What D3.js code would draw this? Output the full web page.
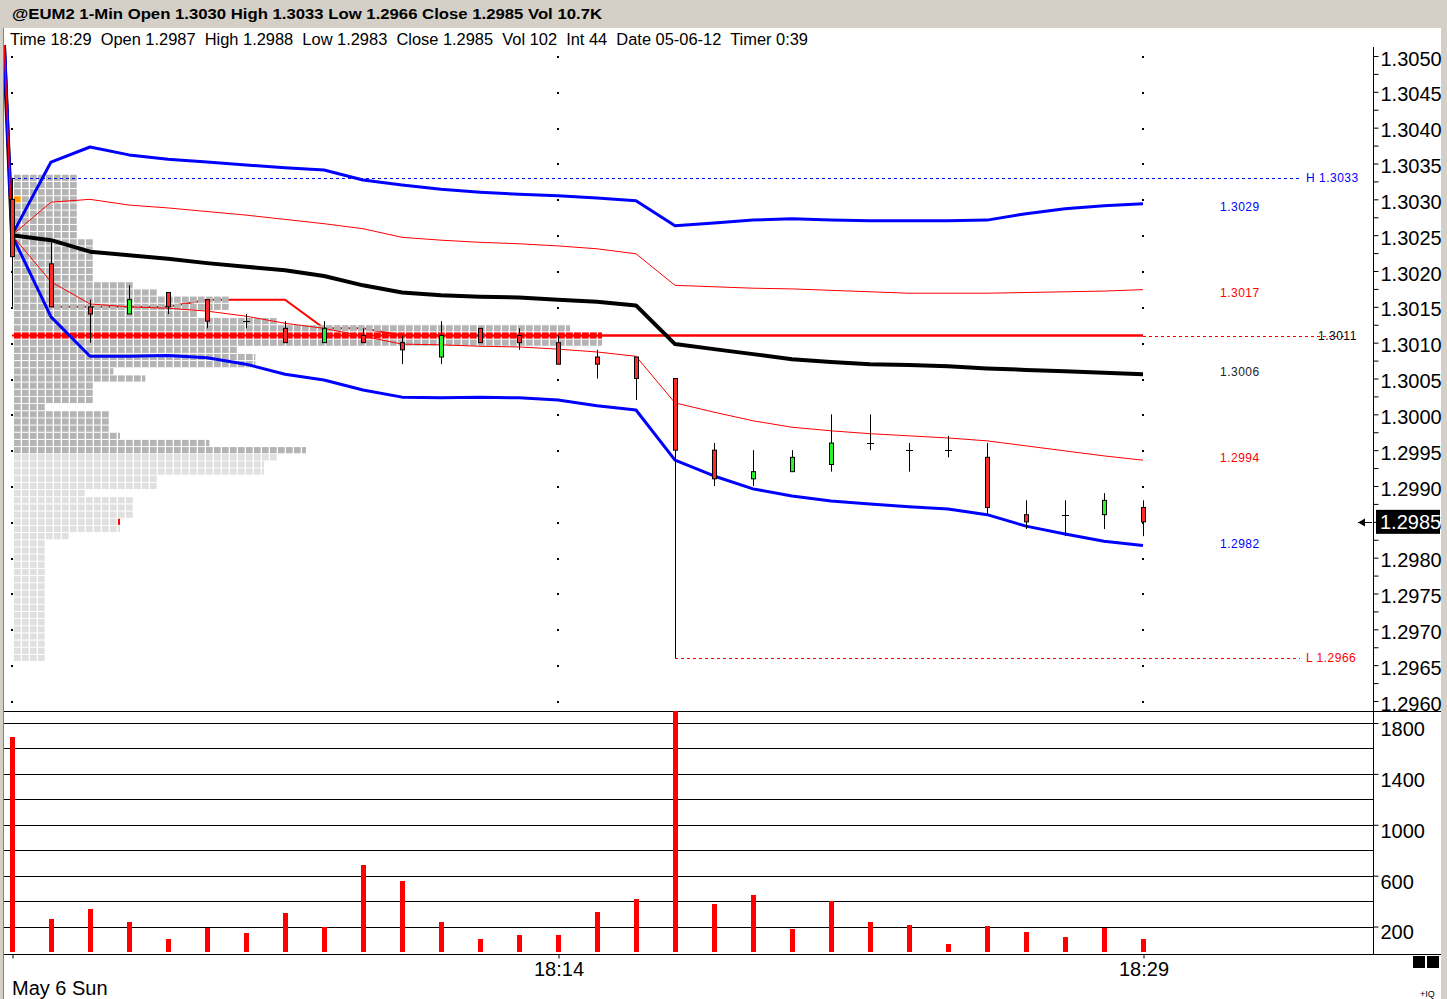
<!DOCTYPE html>
<html>
<head>
<meta charset="utf-8">
<script src="https://cdn.jsdelivr.net/npm/d3@7"></script>
<style>
  html, body { margin: 0; padding: 0; background: #fff; overflow: hidden; }
  svg { display: block; font-family: "Liberation Sans", Arial, sans-serif; }
</style>
</head>
<body>
<svg id="chart" width="1447" height="999"></svg>
<script>
/* ---- chart data ---- */
const times = ["18:00","18:01","18:02","18:03","18:04","18:05","18:06","18:07","18:08","18:09",
  "18:10","18:11","18:12","18:13","18:14","18:15","18:16","18:17","18:18","18:19",
  "18:20","18:21","18:22","18:23","18:24","18:25","18:26","18:27","18:28","18:29"];

const opens  = [1.3030,1.3021,1.3015,1.3014,1.3017,1.3016,1.3013,1.3012,1.3010,1.3011,
  1.3010,1.3008,1.3012,1.3011,1.3010,1.3008,1.3008,1.3005,1.2995,1.2991,
  1.2992,1.2993,1.2996,1.2995,1.2995,1.2994,1.2986,1.2986,1.2986,1.2987];
const highs  = [1.3033,1.3024,1.3016,1.3018,1.3017,1.3016,1.3014,1.3013,1.3013,1.3012,
  1.3011,1.3013,1.3012,1.3012,1.3011,1.3009,1.3008,1.3005,1.2996,1.2995,
  1.2995,1.3000,1.3000,1.2996,1.2997,1.2996,1.2988,1.2988,1.2989,1.2988];
const lows   = [1.3015,1.3015,1.3010,1.3014,1.3014,1.3012,1.3012,1.3010,1.3010,1.3010,
  1.3007,1.3007,1.3010,1.3009,1.3007,1.3005,1.3002,1.2966,1.2990,1.2990,
  1.2992,1.2992,1.2995,1.2992,1.2994,1.2986,1.2984,1.2983,1.2984,1.2983];
const closes = [1.3022,1.3015,1.3014,1.3016,1.3015,1.3013,1.3013,1.3010,1.3012,1.3010,
  1.3009,1.3011,1.3010,1.3010,1.3007,1.3007,1.3005,1.2995,1.2991,1.2992,
  1.2994,1.2996,1.2996,1.2995,1.2995,1.2987,1.2985,1.2986,1.2988,1.2985];
const volumes = [1692,259,338,236,102,191,149,306,194,684,
  558,236,102,134,134,314,416,1970,377,448,
  181,401,236,212,63,204,157,118,189,102];

// VWAP and deviation bands
const upper2 = [1.30250,1.30352,1.30373,1.30362,1.30356,1.30352,1.30348,1.30344,1.30341,1.30327,
  1.30320,1.30314,1.30310,1.30307,1.30305,1.30302,1.30298,1.30263,1.30267,1.30271,
  1.30273,1.30271,1.30270,1.30270,1.30270,1.30271,1.30280,1.30287,1.30291,1.30294];
const upper1 = [1.30250,1.30296,1.30300,1.30292,1.30288,1.30283,1.30278,1.30272,1.30266,1.30259,
  1.30247,1.30243,1.30240,1.30238,1.30235,1.30231,1.30224,1.30180,1.30178,1.30176,
  1.30175,1.30173,1.30171,1.30169,1.30169,1.30169,1.30170,1.30171,1.30172,1.30174];
const vwap   = [1.30250,1.30243,1.30227,1.30222,1.30217,1.30211,1.30206,1.30201,1.30193,1.30180,
  1.30170,1.30166,1.30164,1.30163,1.30160,1.30157,1.30152,1.30098,1.30091,1.30084,
  1.30077,1.30073,1.30070,1.30069,1.30067,1.30064,1.30062,1.30060,1.30058,1.30056];
const lower1 = [1.30250,1.30185,1.30154,1.30150,1.30148,1.30144,1.30137,1.30127,1.30120,1.30109,
  1.30098,1.30097,1.30095,1.30094,1.30091,1.30087,1.30081,1.30016,1.30003,1.29991,
  1.29982,1.29977,1.29973,1.29970,1.29967,1.29963,1.29956,1.29949,1.29942,1.29936];
const lower2 = [1.30250,1.30136,1.30081,1.30081,1.30082,1.30079,1.30070,1.30056,1.30048,1.30034,
  1.30024,1.30023,1.30024,1.30023,1.30020,1.30012,1.30006,1.29936,1.29914,1.29896,
  1.29886,1.29879,1.29875,1.29871,1.29868,1.29860,1.29844,1.29833,1.29823,1.29817];
// values carried in from the bar before the session (17:59), order: upper2, upper1, vwap, lower1, lower2
const priorTime = "17:59";
const priorBands = [1.3162, 1.3160, 1.3154, 1.3158, 1.3156];

// developing point of control, 18:01 .. 18:29
const dpoc = [null,1.3015,1.3015,1.3015,1.3015,1.3016,1.3016,1.3016,1.3012,1.3012,
  1.3011,1.3011,1.3011,1.3011,1.3011,1.3011,1.3011,1.3011,1.3011,1.3011,
  1.3011,1.3011,1.3011,1.3011,1.3011,1.3011,1.3011,1.3011,1.3011,1.3011];

// session profile: price levels and number of cells per level
const profilePrices = [1.3033,1.3032,1.3031,1.3030,1.3029,1.3028,1.3027,1.3026,1.3025,1.3024,
  1.3023,1.3022,1.3021,1.3020,1.3019,1.3018,1.3017,1.3016,1.3015,1.3014,
  1.3013,1.3012,1.3011,1.3010,1.3009,1.3008,1.3007,1.3006,1.3005,1.3004,
  1.3003,1.3002,1.3001,1.3000,1.2999,1.2998,1.2997,1.2996,1.2995,1.2994,
  1.2993,1.2992,1.2991,1.2990,1.2989,1.2988,1.2987,1.2986,1.2985,1.2984,
  1.2983,1.2982,1.2981,1.2980,1.2979,1.2978,1.2977,1.2976,1.2975,1.2974,
  1.2973,1.2972,1.2971,1.2970,1.2969,1.2968,1.2967,1.2966];
const profileCells = [8,8,8,8,8,8,8,8,8,10,
  10,10,10,10,10,15,18,27,27,23,
  33,69.6,73.6,73.6,28,30.2,30.2,12.5,16.5,10,
  10,10,4,12,12,12,13.3,24.5,36.6,33,
  31.3,31.3,18,18,9,15,15,15,13.3,13.3,
  7,4,4,4,4,4,4,4,4,4,
  4,4,4,4,4,4,4,4];
const darkFrom = 1.2995;     // levels at or above this are drawn dark grey
const pocPrice = 1.3011;
const sessionOpen = 1.3030, sessionHigh = 1.3033, sessionLow = 1.2966, lastPrice = 1.2985;
const lowTime = "18:17";

// axes
const priceTicks = [1.3050,1.3045,1.3040,1.3035,1.3030,1.3025,1.3020,1.3015,1.3010,1.3005,
  1.3000,1.2995,1.2990,1.2985,1.2980,1.2975,1.2970,1.2965,1.2960];
const volGrid = [200,400,600,800,1000,1200,1400,1600,1800];
const volLabels = [200,600,1000,1400,1800];
const timeLabels = ["18:14","18:29"];
const dateLabel = "May 6 Sun";

const titleText = "@EUM2 1-Min Open 1.3030 High 1.3033 Low 1.2966 Close 1.2985 Vol 10.7K";
const infoText = "Time 18:29  Open 1.2987  High 1.2988  Low 1.2983  Close 1.2985  Vol 102  Int 44  Date 05-06-12  Timer 0:39";

/* ---- layout ---- */
const W = 1447, H = 999;
const axisX = 1373;
const priceTop = 45, priceBottom = 711, volBottom = 954;

const parseT = d3.timeParse("%H:%M");
const t = times.map(parseT);

const x = d3.scaleTime().domain([t[0], t[t.length - 1]]).range([12, 1143]);
const y = d3.scaleLinear().domain([1.2960, 1.3050]).range([701, 56]);
const yVol = d3.scaleLinear().domain([0, 1800]).range([952, 723]);
const profX = d3.scaleLinear().domain([0, 1]).range([x(t[0]) + 2, x(t[0]) + 10]);

const svg = d3.select("#chart");

/* frame */
svg.append("rect").attr("width", W).attr("height", H).attr("fill", "#fff");
svg.append("rect").attr("width", W).attr("height", 28).attr("fill", "#d4d0c8");
svg.append("rect").attr("x", 0).attr("y", 28).attr("width", 3).attr("height", H - 28).attr("fill", "#d4d0c8");
svg.append("line").attr("x1", 3.5).attr("x2", 3.5).attr("y1", 28).attr("y2", H).attr("stroke", "#808080");
svg.append("rect").attr("x", 1441).attr("y", 28).attr("width", 6).attr("height", H - 28).attr("fill", "#d4d0c8");

svg.append("text")
    .attr("x", 12).attr("y", 19)
    .attr("font-size", 15).attr("font-weight", "bold")
    .attr("textLength", 590).attr("lengthAdjust", "spacingAndGlyphs")
    .text(titleText);

svg.append("text")
    .attr("x", 10).attr("y", 45)
    .attr("font-size", 16)
    .attr("textLength", 798).attr("lengthAdjust", "spacingAndGlyphs")
    .style("white-space", "pre")
    .text(infoText);

/* clip paths */
const defs = svg.append("defs");
defs.append("clipPath").attr("id", "priceClip")
  .append("rect").attr("x", 4).attr("y", priceTop).attr("width", axisX - 4).attr("height", priceBottom - priceTop);
defs.append("clipPath").attr("id", "volClip")
  .append("rect").attr("x", 4).attr("y", priceBottom).attr("width", axisX - 4).attr("height", volBottom - priceBottom);

const plot = svg.append("g").attr("clip-path", "url(#priceClip)");

/* POC line running from the profile on to the last bar (behind everything) */
const tLast = t[t.length - 1];
plot.append("line")
    .attr("x1", x(t[0])).attr("x2", x(tLast))
    .attr("y1", y(pocPrice)).attr("y2", y(pocPrice))
    .attr("stroke", "#ff0000").attr("stroke-width", 2);

/* dotted time grid at the labelled minutes */
const gridTimes = [times[0]].concat(timeLabels).map(parseT);
plot.append("g")
  .selectAll("rect")
  .data(d3.cross(gridTimes, priceTicks))
  .join("rect")
    .attr("x", d => Math.round(x(d[0])) - 1)
    .attr("y", d => Math.round(y(d[1])))
    .attr("width", 2).attr("height", 2)
    .attr("fill", "#000");

/* developing POC (sits behind the profile) */
const dpocLine = d3.line()
    .defined(d => d.v != null)
    .x(d => x(d.t)).y(d => y(d.v));
plot.append("path")
    .datum(dpoc.map((v, i) => ({t: t[i], v})))
    .attr("d", dpocLine)
    .attr("fill", "none").attr("stroke", "#ff0000").attr("stroke-width", 2);

/* profile */
const rowH = Math.abs(y(0.0001) - y(0));
const cellW = (profX(1) - profX(0)) - 1.3;
const cells = [];
profilePrices.forEach((p, i) => {
  const n = profileCells[i];
  const full = Math.floor(n), frac = n - full;
  for (let k = 0; k < full; k++) cells.push({p, k, w: cellW, last: false});
  if (frac > 0.01) cells.push({p, k: full, w: cellW * frac, last: true});
});
plot.append("g")
  .selectAll("rect")
  .data(cells)
  .join("rect")
    .attr("x", d => profX(d.k))
    .attr("y", d => y(d.p + 0.00005) + 0.5)
    .attr("width", d => d.w)
    .attr("height", rowH - 1)
    .attr("fill", d => {
      if (d.p === sessionOpen && d.k === 0) return "#ff9900";
      if (d.p === lastPrice && d.last) return "#ff0000";
      if (d.p === pocPrice) return "#ff0000";
      return d.p >= darkFrom - 1e-9 ? "#b4b4b4" : "#e0e0e0";
    });

/* bands and VWAP */
const bands = [
  {values: vwap,   prior: priorBands[2], color: "#000000", width: 4, label: "#222222"},
  {values: upper2, prior: priorBands[0], color: "#0000ff", width: 3, label: "#0000ff"},
  {values: lower2, prior: priorBands[4], color: "#0000ff", width: 3, label: "#0000ff"},
  {values: lower1, prior: priorBands[3], color: "#ff0000", width: 1, label: "#ff0000"},
  {values: upper1, prior: priorBands[1], color: "#ff0000", width: 1, label: "#ff0000"}
];
const bandLine = d3.line().x(d => x(d.t)).y(d => y(d.v));
bands.forEach(b => {
  const pts = [{t: parseT(priorTime), v: b.prior}].concat(b.values.map((v, i) => ({t: t[i], v})));
  plot.append("path")
      .datum(pts)
      .attr("d", bandLine)
      .attr("fill", "none")
      .attr("stroke", b.color)
      .attr("stroke-width", b.width)
      .attr("stroke-linejoin", "round");
});

/* dashed extension of the POC */
plot.append("line")
    .attr("x1", x(tLast)).attr("x2", axisX - 26)
    .attr("y1", Math.round(y(pocPrice)) + 0.5).attr("y2", Math.round(y(pocPrice)) + 0.5)
    .attr("stroke", "#ff0000").attr("stroke-dasharray", "3,3");

/* session high / low lines */
plot.append("line")
    .attr("x1", x(t[0])).attr("x2", axisX - 73)
    .attr("y1", Math.round(y(sessionHigh)) + 0.5).attr("y2", Math.round(y(sessionHigh)) + 0.5)
    .attr("stroke", "#0000ff").attr("stroke-dasharray", "3,3");
plot.append("line")
    .attr("x1", x(parseT(lowTime))).attr("x2", axisX - 73)
    .attr("y1", Math.round(y(sessionLow)) + 0.5).attr("y2", Math.round(y(sessionLow)) + 0.5)
    .attr("stroke", "#ff0000").attr("stroke-dasharray", "3,3");

/* candles */
const bars = times.map((s, i) => ({t: t[i], o: opens[i], h: highs[i], l: lows[i], c: closes[i], v: volumes[i]}));
const candle = plot.append("g").selectAll("g").data(bars).join("g");
candle.append("line")
    .attr("x1", d => Math.round(x(d.t)) + 0.5).attr("x2", d => Math.round(x(d.t)) + 0.5)
    .attr("y1", d => y(d.h)).attr("y2", d => y(d.l))
    .attr("stroke", "#000").attr("stroke-width", 1);
candle.filter(d => d.o !== d.c).append("rect")
    .attr("x", d => Math.round(x(d.t)) - 1.5)
    .attr("y", d => y(Math.max(d.o, d.c)))
    .attr("width", 4)
    .attr("height", d => Math.abs(y(d.o) - y(d.c)))
    .attr("fill", d => d.c < d.o ? "#ff2a2a" : "#2af52a")
    .attr("stroke", "#000").attr("stroke-width", 1);
candle.filter(d => d.o === d.c).append("line")
    .attr("x1", d => Math.round(x(d.t)) - 3).attr("x2", d => Math.round(x(d.t)) + 4)
    .attr("y1", d => Math.round(y(d.o)) + 0.5).attr("y2", d => Math.round(y(d.o)) + 0.5)
    .attr("stroke", "#000").attr("stroke-width", 1);

/* value labels at the right of the plot */
const labelX = 1220;
bands.forEach(b => {
  const last = +b.values[b.values.length - 1].toFixed(4);
  svg.append("text")
      .attr("x", labelX).attr("y", y(last))
      .attr("dy", "0.35em")
      .attr("font-size", 12).attr("letter-spacing", 0.5)
      .attr("fill", b.label)
      .text(last.toFixed(4));
});
svg.append("text").attr("x", axisX - 67).attr("y", y(sessionHigh)).attr("dy", "0.35em")
    .attr("font-size", 12).attr("letter-spacing", 0.5).attr("fill", "#0000ff")
    .text("H " + sessionHigh.toFixed(4));
svg.append("text").attr("x", axisX - 67).attr("y", y(sessionLow)).attr("dy", "0.35em")
    .attr("font-size", 12).attr("letter-spacing", 0.5).attr("fill", "#ff0000")
    .text("L " + sessionLow.toFixed(4));
svg.append("text").attr("x", axisX - 55).attr("y", y(pocPrice)).attr("dy", "0.35em")
    .attr("font-size", 12).attr("letter-spacing", 0.5).attr("fill", "#000")
    .text(pocPrice.toFixed(4));

/* price axis */
const minorTicks = d3.pairs(priceTicks, (a, b) => (a + b) / 2);
const yAxis = d3.axisRight(y)
    .tickValues(priceTicks.concat(minorTicks))
    .tickSize(5).tickPadding(2)
    .tickFormat(d => priceTicks.includes(d) ? d.toFixed(4) : "");
const yAxisG = svg.append("g")
    .attr("transform", `translate(${axisX + 0.5},0)`)
    .call(yAxis);
yAxisG.select(".domain").attr("d", `M0,${priceTop + 2}V${priceBottom}`).attr("stroke", "#000");
yAxisG.selectAll(".tick line").attr("stroke", "#000");
yAxisG.selectAll(".tick text")
    .attr("font-family", "'Liberation Sans', Arial, sans-serif")
    .attr("font-size", 20).attr("fill", "#000")
    .attr("dy", "0.45em");

/* last price box */
const lastY = y(lastPrice);
svg.append("rect")
    .attr("x", axisX + 3).attr("y", lastY - 12)
    .attr("width", 64).attr("height", 24)
    .attr("fill", "#000");
svg.append("text")
    .attr("x", axisX + 7).attr("y", lastY).attr("dy", "0.36em")
    .attr("font-size", 20).attr("fill", "#fff")
    .text(lastPrice.toFixed(4));
svg.append("line")
    .attr("x1", axisX - 15).attr("x2", axisX - 1)
    .attr("y1", Math.round(lastY) + 0.5).attr("y2", Math.round(lastY) + 0.5)
    .attr("stroke", "#000");
svg.append("path")
    .attr("d", `M${axisX - 15},${Math.round(lastY) + 0.5}l7,-4v8z`)
    .attr("fill", "#000");

/* panel separators */
svg.append("line").attr("x1", 4).attr("x2", 1441)
    .attr("y1", priceBottom + 0.5).attr("y2", priceBottom + 0.5).attr("stroke", "#000");
svg.append("line").attr("x1", 4).attr("x2", 1441)
    .attr("y1", volBottom + 0.5).attr("y2", volBottom + 0.5).attr("stroke", "#000");

/* volume panel */
const volG = svg.append("g").attr("clip-path", "url(#volClip)");
volG.append("g")
  .selectAll("line")
  .data(volGrid)
  .join("line")
    .attr("x1", 4).attr("x2", axisX)
    .attr("y1", d => Math.round(yVol(d)) + 0.5).attr("y2", d => Math.round(yVol(d)) + 0.5)
    .attr("stroke", "#000");
volG.append("g")
  .attr("shape-rendering", "crispEdges")
  .selectAll("rect")
  .data(bars)
  .join("rect")
    .attr("x", d => Math.round(x(d.t)) - 2)
    .attr("y", d => yVol(d.v))
    .attr("width", 5)
    .attr("height", d => yVol(0) - yVol(d.v))
    .attr("fill", "#ff0000");

const vAxis = d3.axisRight(yVol)
    .tickValues(volLabels)
    .tickSize(5).tickPadding(2)
    .tickFormat(d3.format("d"));
const vAxisG = svg.append("g")
    .attr("transform", `translate(${axisX + 0.5},0)`)
    .call(vAxis);
vAxisG.select(".domain").attr("d", `M0,${priceBottom}V${volBottom}`).attr("stroke", "#000");
vAxisG.selectAll(".tick line").attr("stroke", "#000");
vAxisG.selectAll(".tick text")
    .attr("font-family", "'Liberation Sans', Arial, sans-serif")
    .attr("font-size", 20).attr("fill", "#000")
    .attr("dy", "0.62em");

/* time axis */
const xAxis = d3.axisBottom(x)
    .tickValues(gridTimes)
    .tickSize(4).tickPadding(3)
    .tickFormat((d, i) => i === 0 ? "" : d3.timeFormat("%H:%M")(d));
const xAxisG = svg.append("g")
    .attr("transform", `translate(0.5,${volBottom + 0.5})`)
    .call(xAxis);
xAxisG.select(".domain").remove();
xAxisG.selectAll(".tick line").attr("stroke", "#000");
xAxisG.selectAll(".tick text")
    .attr("font-family", "'Liberation Sans', Arial, sans-serif")
    .attr("font-size", 20).attr("fill", "#000");
svg.append("text")
    .attr("x", x(t[0])).attr("y", 995)
    .attr("font-size", 20)
    .text(dateLabel);

/* small widgets bottom right */
svg.append("rect").attr("x", 1413).attr("y", 956).attr("width", 12).attr("height", 12).attr("fill", "#000");
svg.append("rect").attr("x", 1427).attr("y", 956).attr("width", 12).attr("height", 12).attr("fill", "#000");
svg.append("text").attr("x", 1420).attr("y", 997).attr("font-size", 9).text("+IQ");
</script>
</body>
</html>
